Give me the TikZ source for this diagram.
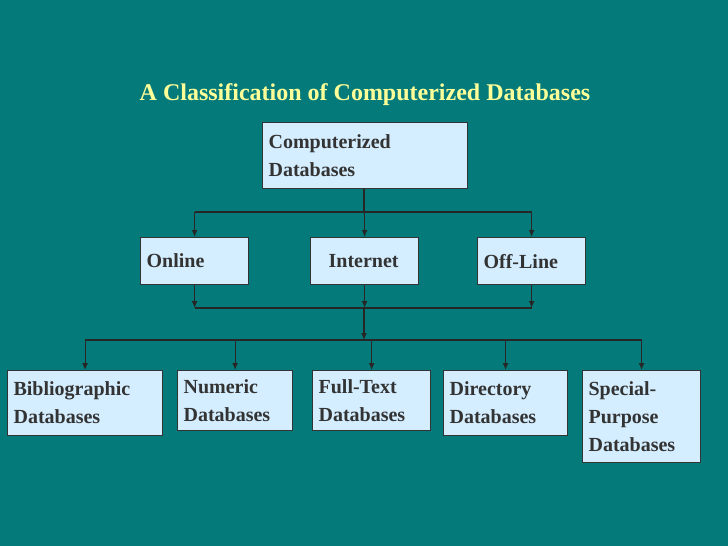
\documentclass[tikz,border=0pt]{standalone}
\usepackage{fontspec}
\setmainfont{Liberation Serif}
\usetikzlibrary{arrows.meta}
\definecolor{bgteal}{HTML}{047A7A}
\definecolor{boxblue}{HTML}{D4EEFF}
\definecolor{titleyellow}{HTML}{FFFF99}
\definecolor{inkgray}{HTML}{333333}

\tikzset{
  box/.style={draw=inkgray, fill=boxblue, line width=1.2pt, text=inkgray,
    font=\fontsize{20}{28}\selectfont\bfseries, align=left, anchor=north west,
    inner xsep=6pt, inner ysep=0pt},
  link/.style={line width=1.2pt, draw=black!85},
  arr/.style={link, -{Latex[length=7pt,width=6pt]}}
}

\begin{document}
\begin{tikzpicture}[x=1pt, y=-1pt]
  \fill[bgteal] (0,0) rectangle (728,546);
  \useasboundingbox (0,0) rectangle (728,546);

  \node[text=titleyellow, font=\fontsize{24}{28}\selectfont\bfseries] (title) at (365,95)
    {A Classification of Computerized Databases};

  % top level
  \node[box, minimum width=205pt, minimum height=66pt, text width=193pt] (comp) at (262,122)
    {Computerized\\Databases};

  % access modes
  \node[box, minimum width=108pt, minimum height=47pt, text width=96pt] (online) at (140,237) {Online};
  \node[box, minimum width=108pt, minimum height=47pt, text width=96pt] (internet) at (310,237) {\hspace*{12pt}Internet};
  \node[box, minimum width=108pt, minimum height=47pt, text width=96pt] (offline) at (477,237) {Off-Line};

  % database types
  \node[box, minimum width=155pt, minimum height=65pt, text width=143pt] (biblio) at (7,370) {Bibliographic\\Databases};
  \node[box, minimum width=115pt, minimum height=60pt, text width=103pt] (numeric) at (177,370) {Numeric\\Databases};
  \node[box, minimum width=118pt, minimum height=60pt, text width=106pt] (fulltext) at (312,370) {Full-Text\\Databases};
  \node[box, minimum width=124pt, minimum height=65pt, text width=112pt] (directory) at (443,370) {Directory\\Databases};
  \node[box, minimum width=118pt, minimum height=92pt, text width=106pt] (special) at (582,370) {Special-\\Purpose\\Databases};

  \coordinate (split) at (364,212);
  \coordinate (merge) at (364,308);
  \coordinate (fan) at (364,340);

  \draw[link] (comp.south -| split) -- (split);
  \draw[link] (online.north |- split) -- (offline.north |- split);
  \foreach \n in {online, internet, offline}
    \draw[arr] (\n.north |- split) -- (\n.north);
  \draw[link] (online.south |- merge) -- (offline.south |- merge);
  \foreach \n in {online, internet, offline}
    \draw[arr] (\n.south) -- (\n.south |- merge);
  \draw[arr] (merge) -- (fan);
  \draw[link] (biblio.north |- fan) -- (special.north |- fan);
  \foreach \n in {biblio, numeric, fulltext, directory, special}
    \draw[arr] (\n.north |- fan) -- (\n.north);
\end{tikzpicture}
\end{document}
